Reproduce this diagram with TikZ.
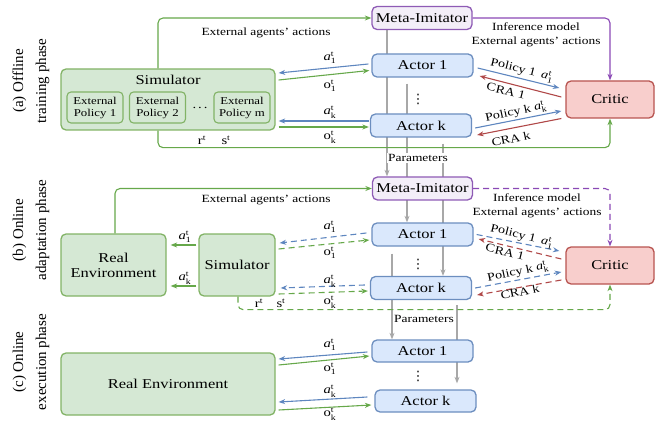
\documentclass[tikz,border=0pt]{standalone}
\usepackage{amsmath}
\usepackage{fontspec}
\setmainfont[FakeStretch=1.22]{Liberation Serif}
\newfontfamily\sidefont{Liberation Serif}
\newfontfamily\symfont{DejaVu Sans}
\usetikzlibrary{arrows.meta,calc,backgrounds}
\definecolor{simfill}{HTML}{D5E8D4}
\definecolor{simline}{HTML}{82B366}
\definecolor{actfill}{HTML}{DAE8FC}
\definecolor{actline}{HTML}{6C8EBF}
\definecolor{crfill}{HTML}{F8CECC}
\definecolor{crline}{HTML}{B85450}
\definecolor{metafill}{HTML}{F3EEF8}
\definecolor{metaline}{HTML}{8E5BB5}
\definecolor{garr}{HTML}{66A84A}
\definecolor{barr}{HTML}{5E86BF}
\definecolor{rarr}{HTML}{B04848}
\definecolor{parr}{HTML}{8A48B5}
\definecolor{grayl}{HTML}{A8A8A8}
\tikzset{
  bx/.style={draw, rounded corners=5pt, line width=1.3pt, inner sep=0pt, align=center,
    font=\fontsize{13.5}{15}\selectfont},
  simbox/.style={bx, fill=simfill, draw=simline},
  polbox/.style={bx, fill=simfill, draw=simline, rounded corners=4pt, line width=1.1pt,
    font=\fontsize{10.5}{12}\selectfont, minimum height=31, minimum width=56},
  actbox/.style={bx, fill=actfill, draw=actline, minimum width=101, minimum height=23},
  crbox/.style={bx, fill=crfill, draw=crline, minimum width=88, minimum height=37},
  metabox/.style={bx, fill=metafill, draw=metaline, minimum width=100, minimum height=23},
  lbl/.style={font=\fontsize{11}{14}\selectfont, inner sep=0.5pt, align=center},
  slbl/.style={font=\fontsize{12}{14}\selectfont, inner sep=0.5pt},
  plbl/.style={font=\fontsize{11.5}{14}\selectfont, inner sep=0.5pt},
  side/.style={font=\sidefont\fontsize{15}{23}\selectfont, rotate=90, align=center, inner sep=0pt},
  arr/.style={-{Stealth[length=6.5pt,width=5pt]}, line width=1.1pt},
  ga/.style={arr, draw=garr},
  ba/.style={arr, draw=barr},
  ra/.style={arr, draw=rarr},
  pa/.style={arr, draw=parr},
  gl/.style={arr, draw=grayl},
  dsh/.style={dash pattern=on 6pt off 4pt},
  loopl/.style={rounded corners=5pt},
  vd/.style={inner sep=0pt, font=\symfont\fontsize{13}{14}\selectfont},
}
\newcommand\av[1]{$\textit{a}^{\text{t}}_{\text{#1}}$}
\newcommand\ov[1]{$\text{o}^{\text{t}}_{\text{#1}}$}
\begin{document}
\begin{tikzpicture}[x=1pt,y=-1pt]
\useasboundingbox (0,0) rectangle (661,422);
\coordinate (gx1) at (387,0);
\coordinate (gx2) at (407,0);
\coordinate (gx3) at (443,0);
\coordinate (gx4) at (392,0);
\coordinate (gx5) at (457,0);

% side labels
\node[side] (labA) at (31,81) {(a) Offline\\training phase};
\node[side] (labB) at (31,230) {(b) Online\\adaptation phase};
\node[side] (labC) at (31,362) {(c) Online\\execution phase};

% ---------- (a) ----------
\node[simbox, minimum width=214, minimum height=61] (simA) at (168,99.5) {};
\node[font=\fontsize{13.5}{15}\selectfont, inner sep=0pt] (simAt) at (168,80) {Simulator};
\node[polbox] (ep1) at (95,107.5) {External\\Policy 1};
\node[polbox] (ep2) at (157.5,107.5) {External\\Policy 2};
\node[polbox] (epm) at (242,107.5) {External\\Policy m};
\node[font=\fontsize{12}{14}\selectfont, inner sep=0pt] (edots) at (200,108) {.\,.\,.};
\node[metabox] (metaA) at (422,18) {Meta-Imitator};
\node[actbox] (actor1A) at (422.5,65.5) {Actor 1};
\node[actbox] (actorkA) at (421,125.5) {Actor k};
\node[vd] (vdA) at (418,99) {⋮};
\node[crbox] (criticA) at (610,99.5) {Critic};
\node[lbl, fill=white, inner sep=1pt] (paramA) at (418,158) {Parameters};

% ---------- (b) ----------
\node[simbox, minimum width=105, minimum height=62] (realB) at (113.5,265) {Real\\Environment};
\node[simbox, minimum width=76, minimum height=62] (simB) at (237,265) {Simulator};
\node[metabox] (metaB) at (422.5,188.5) {Meta-Imitator};
\node[actbox] (actor1B) at (422.5,234.5) {Actor 1};
\node[actbox] (actorkB) at (421,288) {Actor k};
\node[vd] (vdB) at (418,264) {⋮};
\node[crbox] (criticB) at (610,265.5) {Critic};
\node[lbl, fill=white, inner sep=1pt] (paramC) at (424,319) {Parameters};

% ---------- (c) ----------
\node[simbox, minimum width=214, minimum height=62] (realC) at (168,384) {Real Environment};
\node[actbox, minimum height=22] (actor1C) at (422.5,351) {Actor 1};
\node[actbox, minimum height=22] (actorkC) at (425.5,401) {Actor k};
\node[vd] (vdC) at (418,376) {⋮};

% ---------- gray parameter lines ----------
\begin{scope}[on background layer]
\draw[gl] (metaA.south -| gx1) -- (metaB.north -| gx1);
\draw[gl] ($(actor1A.south -| gx2)+(0,6)$) -- (actor1B.north -| gx2);
\draw[gl] ($(actorkA.south -| gx3)+(0,6)$) -- (actorkB.north -| gx3);
\draw[gl] ($(actor1B.south -| gx4)+(0,7)$) -- (actor1C.north -| gx4);
\draw[gl] ($(actorkB.south -| gx5)+(0,5)$) -- ($(actorkC.north -| gx5)+(0,-6)$);
\end{scope}

% ---------- (a) connectors ----------
\draw[ga, loopl] ($(simA.north)+(-10,0)$) |- (metaA.west);
\node[lbl] (extA) at (266,33) {External agents' actions};
\draw[pa, loopl] (metaA.east) -| (criticA.north);
\node[lbl] (infA) at (536,35) {Inference model\\External agents' actions};
\draw[ga, loopl] ($(simA.south)+(-10,0)$) -- ++(0,17) -| (criticA.south);
\node[slbl] (rA) at (202,140) {$\text{r}^{\text{t}}$};
\node[slbl] (sA) at (226,140) {$\text{s}^{\text{t}}$};

\draw[ba] ($(actor1A.west)+(-3,-1.5)$) -- ($(simA.east)+(3,-26.5)$);
\draw[ga] ($(simA.east)+(3,-19.5)$) -- ($(actor1A.west)+(-2,5)$);
\draw[ba] ($(actorkA.west)+(-1,-4.5)$) -- ($(simA.east)+(3,21.5)$);
\draw[ga] ($(simA.east)+(3,27.5)$) -- ($(actorkA.west)+(-1,1.5)$);
\node[slbl] (a1A) at (330,58) {\av{1}};
\node[slbl] (o1A) at (330,86) {\ov{1}};
\node[slbl] (akA) at (330,112) {\av{k}};
\node[slbl] (okA) at (330,137) {\ov{k}};

\draw[ba] ($(actor1A.east)+(4,2.5)$) -- ($(criticA.west)+(-6,-11.5)$);
\draw[ra] ($(criticA.west)+(-4,-2.5)$) -- ($(actor1A.east)+(6,10.5)$);
\draw[ba] ($(actorkA.east)+(3,2.5)$) -- ($(criticA.west)+(-4,11.5)$);
\draw[ra] ($(criticA.west)+(-4,19)$) -- ($(actorkA.east)+(5,9.5)$);
\node[plbl, rotate=-14] (p1A) at (522,70) {Policy 1\enspace\av{1}};
\node[plbl, rotate=-14] (c1A) at (506,91) {CRA 1};
\node[plbl, rotate=12] (pkA) at (516,112) {Policy k \av{k}};
\node[plbl, rotate=12] (ckA) at (511,139) {CRA k};

% ---------- (b) connectors ----------
\draw[ga, loopl] ($(realB.north)+(1.5,0)$) |- (metaB.west);
\node[lbl] (extB) at (266,200) {External agents' actions};
\draw[pa, dsh, loopl] (metaB.east) -| (criticB.north);
\node[lbl] (infB) at (537,205.5) {Inference model\\External agents' actions};
\draw[ga, dsh, loopl] ($(simB.south)+(1,0)$) -- ++(0,13) -| (criticB.south);
\node[slbl] (rB) at (259,303) {$\text{r}^{\text{t}}$};
\node[slbl] (sB) at (281,303) {$\text{s}^{\text{t}}$};

\draw[ga] ($(simB.west)+(-2,-20)$) -- ($(realB.east)+(4,-20)$);
\draw[ga] ($(simB.west)+(-2,21)$) -- ($(realB.east)+(4,21)$);
\node[slbl] (a1B) at (185,237) {\av{1}};
\node[slbl] (akB) at (185,278) {\av{k}};

\draw[ba, dsh] ($(actor1B.west)+(-5,-1.5)$) -- ($(simB.east)+(4,-22)$);
\draw[ga, dsh] ($(simB.east)+(3,-16)$) -- ($(actor1B.west)+(-2,5.5)$);
\draw[ba, dsh] ($(actorkB.west)+(-5,-3)$) -- ($(simB.east)+(5,23)$);
\draw[ga, dsh] ($(simB.east)+(3,29)$) -- ($(actorkB.west)+(-2,3)$);
\node[slbl] (a1B2) at (330,227) {\av{1}};
\node[slbl] (o1B) at (330,253) {\ov{1}};
\node[slbl] (akB2) at (330,281) {\av{k}};
\node[slbl] (okB) at (330,302) {\ov{k}};

\draw[ba, dsh] ($(actor1B.east)+(3,0)$) -- ($(criticB.west)+(-6,-14.5)$);
\draw[ra, dsh] ($(criticB.west)+(-4,-6.5)$) -- ($(actor1B.east)+(5,4.5)$);
\draw[ba, dsh] ($(actorkB.east)+(3,0)$) -- ($(criticB.west)+(-4,6.5)$);
\draw[ra, dsh] ($(criticB.west)+(-4,14.5)$) -- ($(actorkB.east)+(5,7)$);
\node[plbl, rotate=-14] (p1B) at (522,236) {Policy 1\enspace\av{1}};
\node[plbl, rotate=-14] (c1B) at (505,252) {CRA 1};
\node[plbl, rotate=12] (pkB) at (518,272) {Policy k \av{k}};
\node[plbl, rotate=12] (ckB) at (520,292) {CRA k};

% ---------- (c) connectors ----------
\draw[ba] ($(actor1C.west)+(-4,1)$) -- ($(realC.east)+(3,-25)$);
\draw[ga] ($(realC.east)+(3,-19)$) -- ($(actor1C.west)+(-2,5)$);
\draw[ba] ($(actorkC.west)+(-7,-4)$) -- ($(realC.east)+(3,18)$);
\draw[ga] ($(realC.east)+(3,26)$) -- ($(actorkC.west)+(-3,4)$);
\node[slbl] (a1C) at (330,345) {\av{1}};
\node[slbl] (o1C) at (330,369) {\ov{1}};
\node[slbl] (akC) at (330,391) {\av{k}};
\node[slbl] (okC) at (330,414) {\ov{k}};
\end{tikzpicture}
\end{document}
